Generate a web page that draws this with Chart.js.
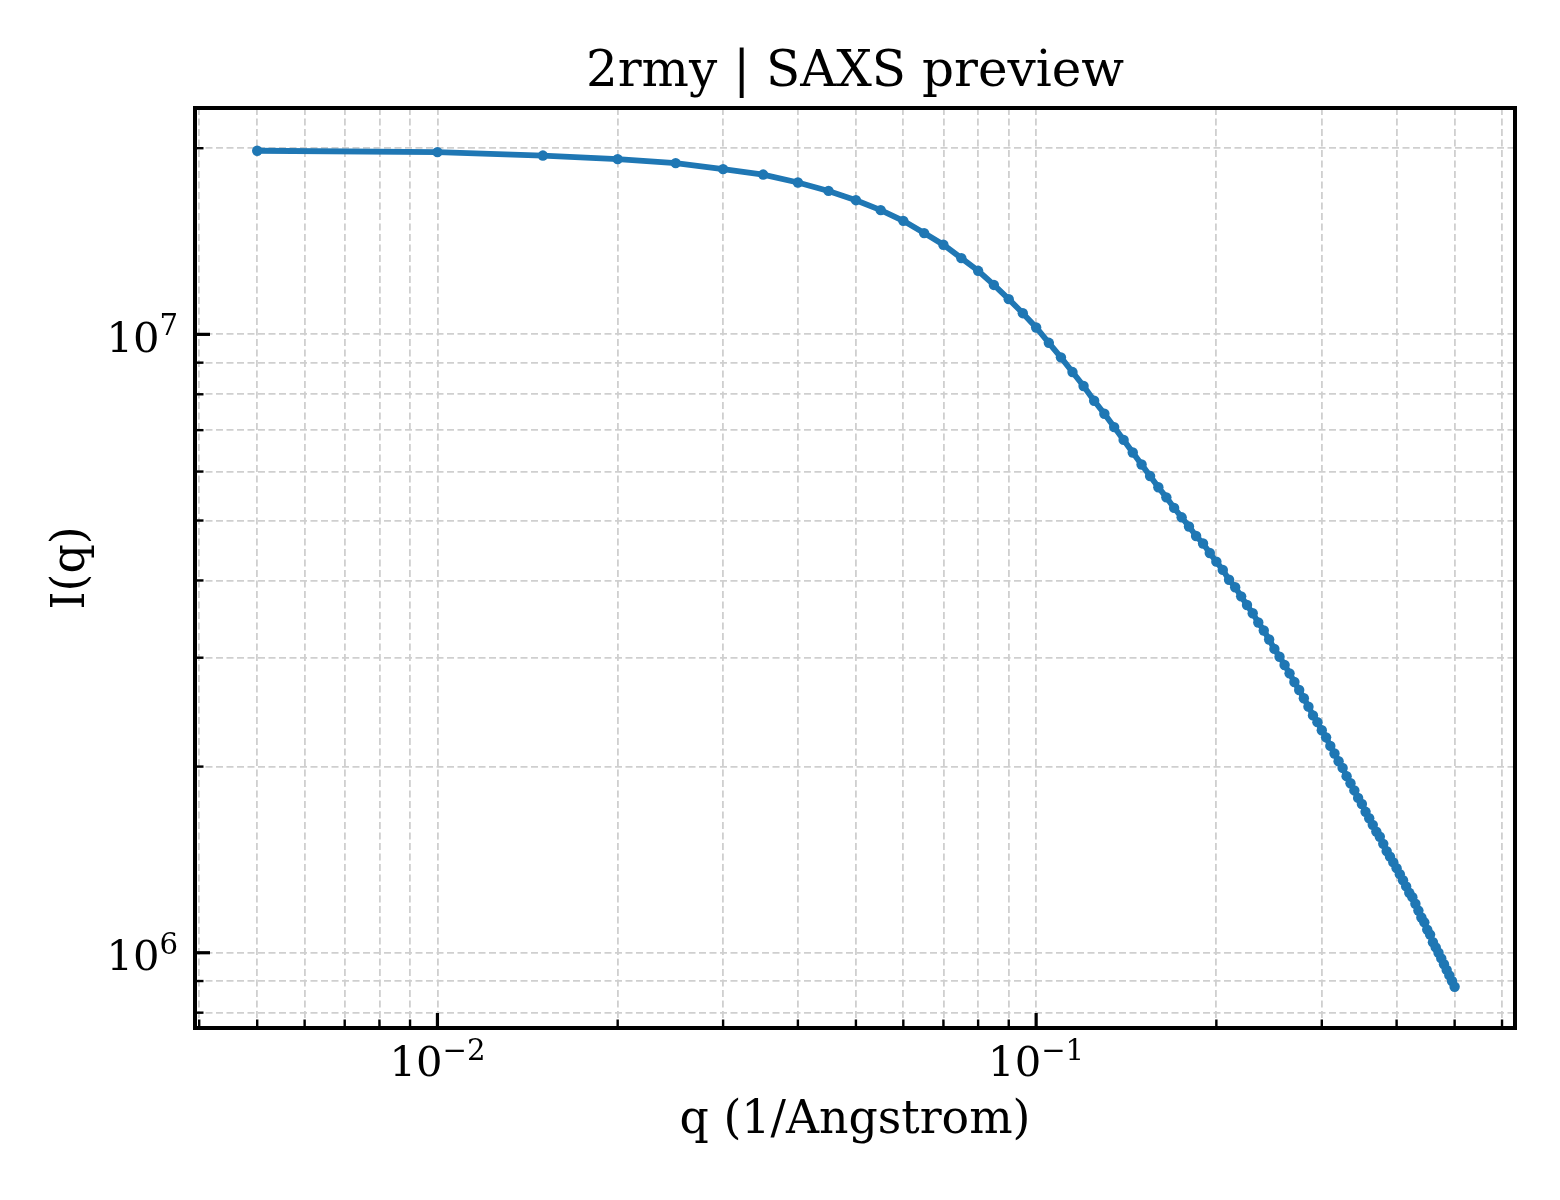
<!DOCTYPE html>
<html lang="en">
<head>
  <meta charset="UTF-8">
  <title>2rmy | SAXS preview</title>
  <style>
    html, body { margin: 0; padding: 0; background: #fff; }
    canvas { display: block; }
  </style>
</head>
<body>
  <canvas id="saxs" width="1560" height="1200" role="img" aria-label="SAXS preview of 2rmy, I(q) against q on log-log axes"></canvas>

  <script src="https://cdn.jsdelivr.net/npm/chart.js@4.4.1/dist/chart.umd.min.js"></script>
  <script>
    // scattering vector q (1/Angstrom)
    const qValues = [
      0.005, 0.010, 0.015, 0.020, 0.025, 0.030, 0.035, 0.040, 0.045, 0.050,
      0.055, 0.060, 0.065, 0.070, 0.075, 0.080, 0.085, 0.090, 0.095, 0.100,
      0.105, 0.110, 0.115, 0.120, 0.125, 0.130, 0.135, 0.140, 0.145, 0.150,
      0.155, 0.160, 0.165, 0.170, 0.175, 0.180, 0.185, 0.190, 0.195, 0.200,
      0.205, 0.210, 0.215, 0.220, 0.225, 0.230, 0.235, 0.240, 0.245, 0.250,
      0.255, 0.260, 0.265, 0.270, 0.275, 0.280, 0.285, 0.290, 0.295, 0.300,
      0.305, 0.310, 0.315, 0.320, 0.325, 0.330, 0.335, 0.340, 0.345, 0.350,
      0.355, 0.360, 0.365, 0.370, 0.375, 0.380, 0.385, 0.390, 0.395, 0.400,
      0.405, 0.410, 0.415, 0.420, 0.425, 0.430, 0.435, 0.440, 0.445, 0.450,
      0.455, 0.460, 0.465, 0.470, 0.475, 0.480, 0.485, 0.490, 0.495, 0.500
    ];

    // intensity I(q)
    const intensity = [
      1.981e7, 1.971e7, 1.946e7, 1.920e7, 1.892e7, 1.850e7, 1.813e7, 1.760e7, 1.706e7, 1.648e7,
      1.588e7, 1.526e7, 1.458e7, 1.396e7, 1.328e7, 1.267e7, 1.202e7, 1.140e7, 1.082e7, 1.026e7,
      9.69e6, 9.18e6, 8.69e6, 8.25e6, 7.81e6, 7.44e6, 7.08e6, 6.75e6, 6.44e6, 6.16e6,
      5.90e6, 5.66e6, 5.45e6, 5.24e6, 5.06e6, 4.89e6, 4.72e6, 4.59e6, 4.43e6, 4.29e6,
      4.16e6, 4.01e6, 3.90e6, 3.77e6, 3.65e6, 3.54e6, 3.42e6, 3.32e6, 3.21e6, 3.10e6,
      3.01e6, 2.92e6, 2.83e6, 2.74e6, 2.66e6, 2.58e6, 2.50e6, 2.42e6, 2.36e6, 2.29e6,
      2.23e6, 2.16e6, 2.10e6, 2.04e6, 1.99e6, 1.93e6, 1.88e6, 1.83e6, 1.78e6, 1.74e6,
      1.69e6, 1.65e6, 1.61e6, 1.57e6, 1.54e6, 1.50e6, 1.46e6, 1.43e6, 1.40e6, 1.37e6,
      1.34e6, 1.31e6, 1.28e6, 1.25e6, 1.23e6, 1.20e6, 1.17e6, 1.14e6, 1.12e6, 1.09e6,
      1.07e6, 1.04e6, 1.02e6, 1.00e6, 9.79e5, 9.58e5, 9.38e5, 9.19e5, 9.00e5, 8.81e5
    ];

    // labelled decades on each axis (exponents of ten)
    const xDecades = [-2, -1];
    const yDecades = [6, 7];

    const titleText = '2rmy | SAXS preview';
    const xLabel = 'q (1/Angstrom)';
    const yLabel = 'I(q)';

    const FONT = '"DejaVu Serif", "Liberation Serif", serif';
    const BLUE = '#1f77b4';

    // every 1..9 x 10^n inside the axis range
    function logTicks(scale) {
      const out = [];
      const lo = Math.floor(Math.log10(scale.min));
      const hi = Math.ceil(Math.log10(scale.max));
      for (let e = lo; e <= hi; e++) {
        for (let m = 1; m <= 9; m++) {
          const v = m * Math.pow(10, e);
          if (v >= scale.min && v <= scale.max) out.push({ value: v, major: m === 1 });
        }
      }
      scale.ticks = out;
    }

    function drawPower(ctx, exp, x, baseline, align) {
      const base = '10';
      const sup = exp < 0 ? '\u2212' + (-exp) : String(exp);
      ctx.font = '41.7px ' + FONT;
      const wb = ctx.measureText(base).width;
      ctx.font = '29.2px ' + FONT;
      const ws = ctx.measureText(sup).width;
      const total = wb + ws;
      const start = align === 'right' ? x - total : x - total / 2;
      ctx.textAlign = 'left';
      ctx.textBaseline = 'alphabetic';
      ctx.font = '41.7px ' + FONT;
      ctx.fillText(base, start, baseline);
      ctx.font = '29.2px ' + FONT;
      ctx.fillText(sup, start + wb, baseline - 16.5);
    }

    const frame = {
      id: 'frame',
      afterDraw(chart) {
        const { ctx, chartArea: a, scales: { x, y } } = chart;
        ctx.save();
        ctx.strokeStyle = '#000';
        ctx.fillStyle = '#000';
        ctx.lineCap = 'butt';

        // inward ticks, bottom and left only
        x.ticks.forEach(t => {
          const px = x.getPixelForValue(t.value);
          ctx.lineWidth = t.major ? 3.2 : 2.4;
          ctx.beginPath();
          ctx.moveTo(px, a.bottom);
          ctx.lineTo(px, a.bottom - (t.major ? 15 : 8.5));
          ctx.stroke();
        });
        y.ticks.forEach(t => {
          const py = y.getPixelForValue(t.value);
          ctx.lineWidth = t.major ? 3.2 : 2.4;
          ctx.beginPath();
          ctx.moveTo(a.left, py);
          ctx.lineTo(a.left + (t.major ? 15 : 8.5), py);
          ctx.stroke();
        });

        ctx.lineWidth = 4;
        ctx.strokeRect(a.left, a.top, a.right - a.left, a.bottom - a.top);

        xDecades.forEach(e => drawPower(ctx, e, x.getPixelForValue(Math.pow(10, e)), a.bottom + 48, 'center'));
        yDecades.forEach(e => drawPower(ctx, e, a.left - 17, y.getPixelForValue(Math.pow(10, e)) + 17.4, 'right'));

        const cx = (a.left + a.right) / 2;
        const cy = (a.top + a.bottom) / 2;
        ctx.textAlign = 'center';
        ctx.textBaseline = 'alphabetic';
        ctx.font = '50px ' + FONT;
        ctx.fillText(titleText, cx, 86);
        ctx.font = '45.8px ' + FONT;
        ctx.fillText(xLabel, cx, 1132.7);
        ctx.translate(83.5, cy);
        ctx.rotate(-Math.PI / 2);
        ctx.fillText(yLabel, 0, 0);
        ctx.restore();
      }
    };

    const points = qValues.map((q, i) => ({ x: q, y: intensity[i] }));

    new Chart(document.getElementById('saxs'), {
      type: 'scatter',
      data: {
        datasets: [{
          label: 'I(q)',
          data: points,
          showLine: true,
          borderColor: BLUE,
          backgroundColor: BLUE,
          borderWidth: 5.8,
          pointRadius: 5.2,
          pointBorderWidth: 0,
          tension: 0
        }]
      },
      options: {
        responsive: false,
        devicePixelRatio: 1,
        animation: false,
        layout: { padding: { top: 108, right: 45, left: 0, bottom: 0 } },
        plugins: { legend: { display: false }, title: { display: false }, tooltip: { enabled: false } },
        scales: {
          x: {
            type: 'logarithmic',
            min: 0.003936,
            max: 0.6307,
            afterBuildTicks: logTicks,
            afterFit: s => { s.height = 172; },
            ticks: { display: false },
            grid: { color: '#cfcfcf', lineWidth: 1.8, drawTicks: false },
            border: { display: false, dash: [7, 3.5] }
          },
          y: {
            type: 'logarithmic',
            min: 7.556e5,
            max: 2.323e7,
            afterBuildTicks: logTicks,
            afterFit: s => { s.width = 195; },
            ticks: { display: false },
            grid: { color: '#cfcfcf', lineWidth: 1.8, drawTicks: false },
            border: { display: false, dash: [7, 3.5] }
          }
        }
      },
      plugins: [frame]
    });
  </script>
</body>
</html>
